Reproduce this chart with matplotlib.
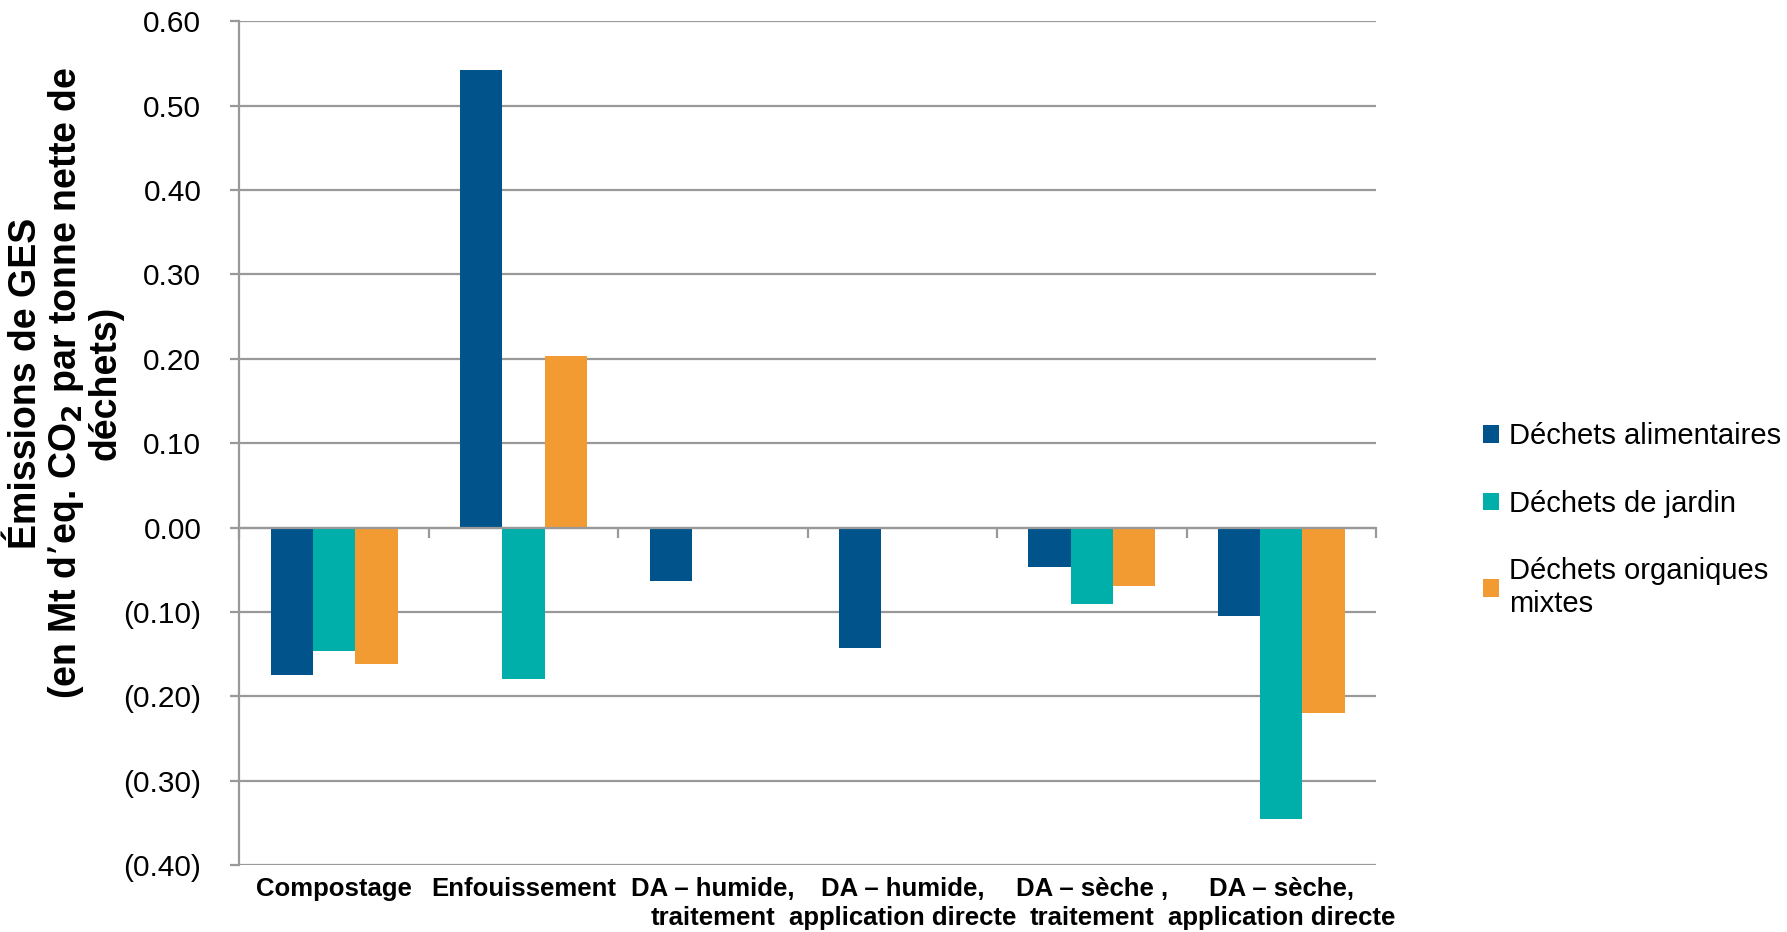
import numpy as np
import matplotlib.pyplot as plt
from matplotlib.ticker import FuncFormatter, FixedLocator

categories = ['Compostage', 'Enfouissement', 'DA – humide,\ntraitement',
              'DA – humide,\napplication directe', 'DA – sèche ,\ntraitement',
              'DA – sèche,\napplication directe']
# nan = pas de barre pour cette categorie
alimentaires = [-0.175, 0.542, -0.064, -0.143, -0.047, -0.105]
jardin = [-0.146, -0.180, np.nan, np.nan, -0.091, -0.346]
organiques = [-0.162, 0.203, np.nan, np.nan, -0.069, -0.220]
series_names = ['Déchets alimentaires', 'Déchets de jardin', 'Déchets organiques\nmixtes']
colors = ['#01548B', '#00AFAA', '#F29B33']

plt.rcParams['font.family'] = ['Liberation Sans', 'DejaVu Sans']

fig = plt.figure(figsize=(17.87, 9.32), dpi=100)
ax = fig.add_axes([0.134, 0.072, 0.636, 0.905])

x = np.arange(len(categories))
w = 0.223
for k, vals in enumerate([alimentaires, jardin, organiques]):
    ax.bar(x + (k - 1) * w, vals, w, color=colors[k], label=series_names[k], zorder=3)

ax.set_xlim(-0.5, len(categories) - 0.5)
ax.set_ylim(-0.40, 0.60)
ax.set_yticks(np.arange(-0.4, 0.61, 0.1))
ax.yaxis.set_major_formatter(FuncFormatter(
    lambda v, p: f'({abs(v):.2f})' if v < -1e-9 else f'{abs(v):.2f}'))
ax.grid(axis='y', color='#999999', linewidth=1.6, zorder=0)
ax.set_axisbelow(True)

for s in ['top', 'right']:
    ax.spines[s].set_visible(False)
ax.spines['left'].set_color('#999999')
ax.spines['left'].set_linewidth(1.6)
ax.spines['bottom'].set_position(('data', 0))
ax.spines['bottom'].set_color('#999999')
ax.spines['bottom'].set_linewidth(1.6)
ax.spines['bottom'].set_zorder(4)

ax.xaxis.set_major_locator(FixedLocator(np.arange(-0.5, len(categories), 1.0)))
ax.set_xticklabels([])
ax.tick_params(axis='x', direction='out', length=7, width=1.6, color='#999999')
ax.tick_params(axis='y', direction='out', length=6.5, width=1.6, color='#999999',
               labelsize=21.5, pad=21)

for i, c in enumerate(categories):
    ax.text(i, -0.414, c, transform=ax.transData, ha='center', va='top',
            fontsize=18.5, fontweight='bold', linespacing=1.3)

ax.set_ylabel('Émissions de GES\n(en Mt d’eq. CO$_\\mathbf{2}$ par tonne nette de\ndéchets)',
              fontsize=27, fontweight='bold', linespacing=1.07, va='center')
ax.yaxis.set_label_coords(-0.153, 0.571)

fig.legend(loc='upper left', bbox_to_anchor=(0.815, 0.575), frameon=False,
           fontsize=21, handlelength=0.55, handleheight=0.55, handletextpad=0.35,
           labelspacing=1.35)

fig.savefig('out.png', dpi=100)
